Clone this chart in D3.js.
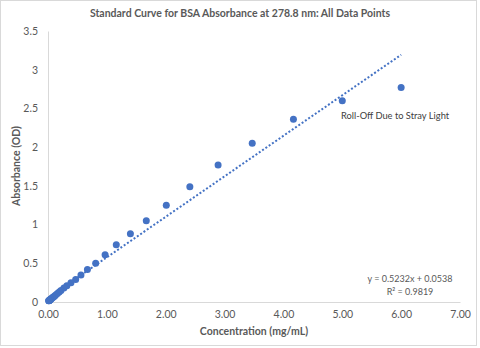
<!DOCTYPE html>
<html><head><meta charset="utf-8">
<script src="https://cdn.jsdelivr.net/npm/d3@7"></script>
<style>body{margin:0;background:#fff}svg{display:block}text{font-family:Lato,"Open Sans",sans-serif}</style>
</head><body>
<script>
const title = "Standard Curve for BSA Absorbance at 278.8 nm: All Data Points";
const xLabel = "Concentration (mg/mL)";
const yLabel = "Absorbance (OD)";
const concentration = [6.00,5.00,4.17,3.47,2.89,2.41,2.01,1.67,1.40,1.16,0.97,0.81,0.67,0.56,0.47,0.39,0.32,0.27,0.22,0.19,0.16,0.13,0.11,0.09,0.075,0.063,0.052,0.044,0.036,0.030,0.025,0.021,0.018,0.015,0.012];
const absorbance    = [2.77,2.60,2.36,2.05,1.77,1.49,1.25,1.05,0.88,0.74,0.61,0.50,0.42,0.35,0.29,0.25,0.21,0.18,0.15,0.13,0.11,0.09,0.075,0.065,0.055,0.047,0.040,0.035,0.030,0.026,0.023,0.020,0.018,0.016,0.015];
const xTicks = [0,1,2,3,4,5,6,7];
const yTicks = [0,0.5,1,1.5,2,2.5,3,3.5];
const slope = 0.5232, intercept = 0.0538;
const trendRange = [0, 6];
const equationLines = ["y = 0.5232x + 0.0538", "R² = 0.9819"];
const annotation = "Roll-Off Due to Stray Light";

const W = 480, H = 348;
const svg = d3.select("body").append("svg").attr("width", W).attr("height", H);
svg.append("rect").attr("x",0.5).attr("y",0.5).attr("width",476).attr("height",345)
  .attr("fill","#fff").attr("stroke","#d9d9d9");

const x = d3.scaleLinear().domain([0,7]).range([48,460]);
const y = d3.scaleLinear().domain([0,3.5]).range([302,31]);
const gray = "#595959", axisCol = "#d9d9d9", blue = "#4472C4";

svg.append("text").attr("x",240).attr("y",17).attr("text-anchor","middle")
  .attr("font-size",10.5).attr("font-weight","bold").attr("fill",gray).text(title);

const xa = svg.append("g").attr("transform","translate(0,302)")
  .call(d3.axisBottom(x).tickValues(xTicks).tickFormat(d3.format(".2f")).tickSize(0).tickPadding(9));
const ya = svg.append("g").attr("transform","translate(48,0)")
  .call(d3.axisLeft(y).tickValues(yTicks).tickFormat(d=>String(d)).tickSize(0).tickPadding(10));
[xa,ya].forEach(g=>{
  g.select(".domain").attr("stroke",axisCol);
  g.selectAll("text").attr("fill",gray).attr("font-size",10.5).attr("font-family","Lato, 'Open Sans', sans-serif");
});

svg.append("text").attr("x",254).attr("y",335).attr("text-anchor","middle")
  .attr("font-size",10.5).attr("font-weight","bold").attr("fill",gray).text(xLabel);
svg.append("text").attr("transform","translate(20,166) rotate(-90)").attr("text-anchor","middle")
  .attr("font-size",10.5).attr("font-weight","bold").attr("fill",gray).text(yLabel);

svg.append("line")
  .attr("x1",x(trendRange[0])).attr("y1",y(slope*trendRange[0]+intercept))
  .attr("x2",x(trendRange[1])).attr("y2",y(slope*trendRange[1]+intercept))
  .attr("stroke",blue).attr("stroke-width",2).attr("stroke-dasharray","2,2");

svg.append("g").selectAll("circle").data(concentration).join("circle")
  .attr("cx",d=>x(d)).attr("cy",(d,i)=>y(absorbance[i])).attr("r",3.5).attr("fill",blue);

svg.append("g").selectAll("text").data(equationLines).join("text")
  .attr("x",410).attr("y",(d,i)=>282+i*13).attr("text-anchor","middle")
  .attr("font-size",9).attr("fill",gray).text(d=>d);

svg.append("text").attr("x",341).attr("y",119).attr("font-size",9.3).attr("fill","#404040").text(annotation);
</script>
</body></html>
